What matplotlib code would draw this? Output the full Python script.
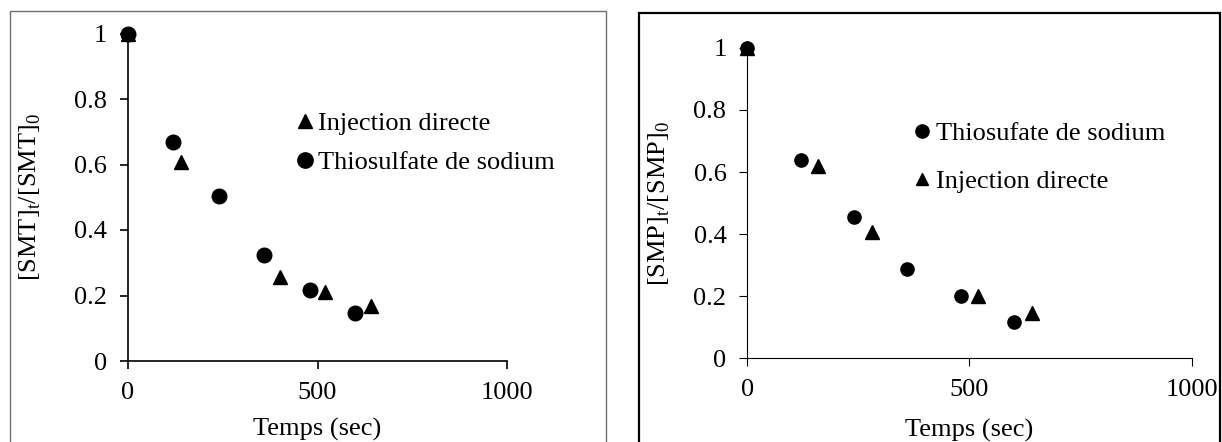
import matplotlib
matplotlib.use("Agg")
import matplotlib.pyplot as plt
from matplotlib.patches import Rectangle

plt.rcParams["font.family"] = ["Liberation Serif", "DejaVu Serif"]
plt.rcParams["mathtext.fontset"] = "custom"
plt.rcParams["mathtext.rm"] = "Liberation Serif"

# SMT degradation
smt_thio_t = [0, 120, 240, 360, 480, 600]
smt_thio_c = [1.0, 0.668, 0.505, 0.325, 0.218, 0.147]
smt_inj_t = [0, 140, 400, 520, 640]
smt_inj_c = [1.0, 0.607, 0.255, 0.212, 0.167]

# SMP degradation
smp_thio_t = [0, 120, 240, 360, 480, 600]
smp_thio_c = [1.0, 0.640, 0.455, 0.289, 0.202, 0.116]
smp_inj_t = [0, 160, 280, 520, 640]
smp_inj_c = [1.0, 0.618, 0.406, 0.201, 0.145]

x_ticks = [0, 500, 1000]
y_ticks = [0, 0.2, 0.4, 0.6, 0.8, 1.0]
y_ticklabels = ["0", "0.2", "0.4", "0.6", "0.8", "1"]

FS = 19
W, H = 1222, 442
fig = plt.figure(figsize=(W / 100, H / 100), dpi=100)


def frac(x0, y0, x1, y1):
    """pixel box (top-left origin) -> figure fraction [l, b, w, h]"""
    return [x0 / W, 1 - y1 / H, (x1 - x0) / W, (y1 - y0) / H]


# panel borders
fig.patches.append(Rectangle((10 / W, -0.1), (605.5 - 10) / W, 1.1 - 11 / H,
                             transform=fig.transFigure, fill=False,
                             edgecolor="#6f6f6f", linewidth=1.0))
fig.patches.append(Rectangle((639 / W, -0.1), (1220 - 639) / W, 1.1 - 13.5 / H,
                             transform=fig.transFigure, fill=False,
                             edgecolor="black", linewidth=1.6))

ax1 = fig.add_axes(frac(128, 33.5, 507, 361))
ax2 = fig.add_axes(frac(747.3, 47.9, 1191.7, 358.3))


def style(ax, lw):
    ax.set_xlim(0, 1000)
    ax.set_ylim(0, 1)
    ax.spines["top"].set_visible(False)
    ax.spines["right"].set_visible(False)
    for s in ("left", "bottom"):
        ax.spines[s].set_linewidth(lw)
    ax.set_xticks(x_ticks)
    ax.set_xticklabels([str(v) for v in x_ticks])
    ax.set_yticks(y_ticks)
    ax.set_yticklabels(y_ticklabels)
    ax.tick_params(direction="out", length=6, width=lw, pad=9, labelsize=FS)


style(ax1, 1.2)
style(ax2, 0.8)

# left panel
h_inj1, = ax1.plot(smt_inj_t, smt_inj_c, linestyle="none", marker="^",
                   markersize=10, color="black", clip_on=False, zorder=3,
                   label="Injection directe")
h_thio1, = ax1.plot(smt_thio_t, smt_thio_c, linestyle="none", marker="o",
                    markersize=10.5, color="black", clip_on=False, zorder=4,
                    label="Thiosulfate de sodium")
ax1.legend(handles=[h_inj1, h_thio1], loc="center left",
           bbox_to_anchor=(0.447, 0.666), frameon=False, fontsize=FS,
           handlelength=0.58, handletextpad=0.2, labelspacing=0.6,
           borderpad=0, borderaxespad=0, markerscale=1.05)
ax1.set_xlabel("Temps (sec)", fontsize=FS)
ax1.set_ylabel(r"[SMT]$_\mathregular{t}$/[SMT]$_\mathregular{0}$", fontsize=FS)
ax1.xaxis.set_label_coords(0.5, -0.175)
ax1.yaxis.set_label_coords(-0.224, 0.5)

# right panel
h_thio2, = ax2.plot(smp_thio_t, smp_thio_c, linestyle="none", marker="o",
                    markersize=9.5, color="black", clip_on=False, zorder=4,
                    label="Thiosufate de sodium")
h_inj2, = ax2.plot(smp_inj_t, smp_inj_c, linestyle="none", marker="^",
                   markersize=9.5, color="black", clip_on=False, zorder=3,
                   label="Injection directe")
leg2 = ax2.legend(handles=[h_thio2, h_inj2], loc="center left",
                  bbox_to_anchor=(0.378, 0.647), frameon=False, fontsize=FS,
                  handlelength=0.52, handletextpad=0.25, labelspacing=0.95,
                  borderpad=0, borderaxespad=0)
leg2.legend_handles[1].set_markersize(8)
ax2.set_xlabel("Temps (sec)", fontsize=FS)
ax2.set_ylabel(r"[SMP]$_\mathregular{t}$/[SMP]$_\mathregular{0}$", fontsize=FS)
ax2.xaxis.set_label_coords(0.5, -0.194)
ax2.yaxis.set_label_coords(-0.169, 0.5)

fig.savefig("out.png", dpi=100)
